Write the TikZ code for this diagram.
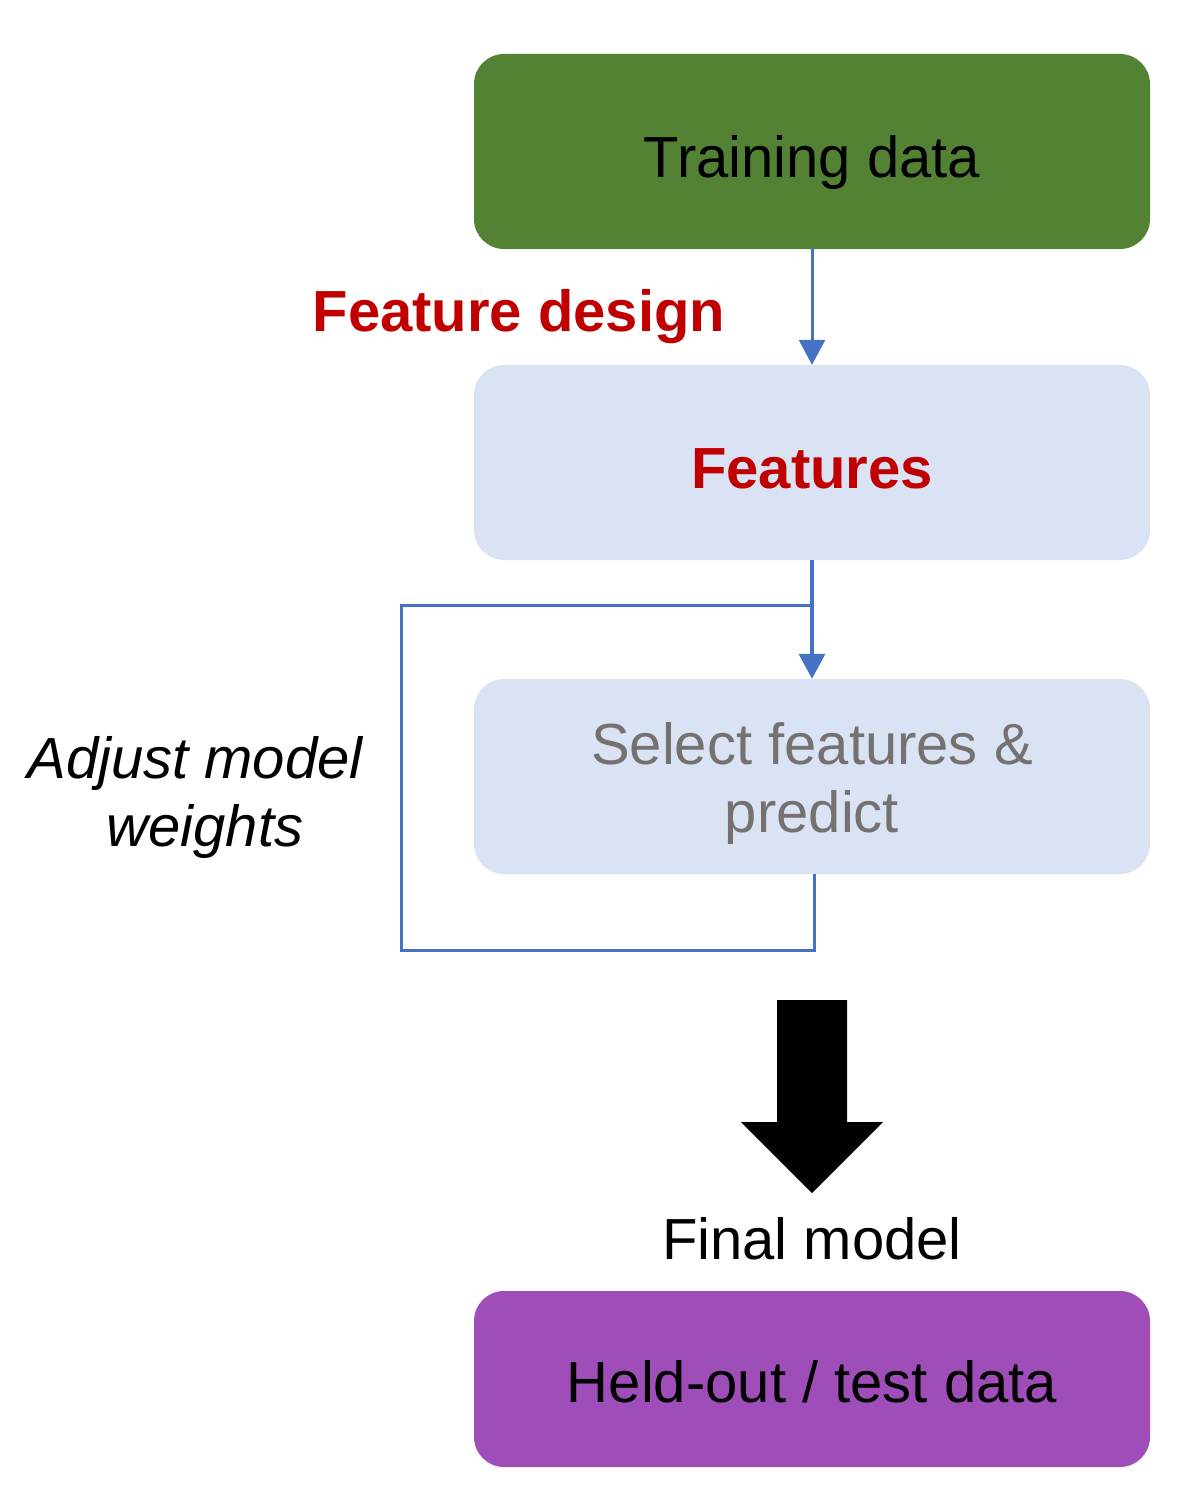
\documentclass[tikz,border=0pt]{standalone}
\usepackage{fontspec}
\setmainfont{Liberation Sans}
\usetikzlibrary{arrows.meta}
\definecolor{boxgreen}{HTML}{548235}
\definecolor{boxblue}{HTML}{DAE3F3}
\definecolor{boxpurple}{HTML}{9E4DB9}
\definecolor{featred}{HTML}{C00000}
\definecolor{txtgray}{HTML}{767171}
\definecolor{lineblue}{HTML}{4472C4}
\begin{document}
\begin{tikzpicture}[x=1pt,y=-1pt,
  box/.style={rectangle, rounded corners=30pt, minimum width=676pt, inner sep=0pt},
  lbl/.style={font=\fontsize{58}{68}\selectfont, inner sep=0pt},
  flow/.style={draw=lineblue, line width=3pt, -{Triangle[width=26pt,length=25pt]}},
  loopline/.style={draw=lineblue, line width=3pt}]
\useasboundingbox (0,0) rectangle (1197,1498);

% boxes
\node[box, fill=boxgreen, minimum height=195pt] (train) at (812,151.5) {};
\node[box, fill=boxblue, minimum height=195pt] (feat) at (812,462.5) {};
\node[box, fill=boxblue, minimum height=195pt] (sel) at (812,776.5) {};
\node[box, fill=boxpurple, minimum height=176pt] (test) at (812,1379) {};

% box texts
\node[lbl, anchor=base] (ttrain) at (812,178) {Training data};
\node[lbl, anchor=base, font=\fontsize{58}{68}\selectfont\bfseries, text=featred] (tfeat) at (812,488) {Features};
\node[lbl, align=center, text=txtgray] (tsel) at (812,783) {Select features \&\\predict};
\node[lbl, anchor=base] (ttest) at (812,1402) {Held-out / test data};

% free labels
\node[lbl, anchor=base, font=\fontsize{58}{68}\selectfont\bfseries, text=featred] (design) at (519,331) {Feature design};
\node[lbl, align=center, font=\fontsize{58}{68}\selectfont\itshape] (adjust) at (195,797) {Adjust model\\\hspace*{20pt}weights};
\node[lbl, anchor=base] (final) at (812,1259) {Final model};

% connectors
\draw[flow] (train.south) -- (feat.north);
\coordinate (join) at (812,605);
\coordinate (loopL) at (401,950);
\draw[flow, line width=3.5pt] (feat.south) -- (sel.north);
\draw[loopline] ([xshift=2pt]sel.south) |- (loopL) |- (join);

% block arrow
\fill[black] (777,1000) -- (847,1000) -- (847,1122) -- (883,1122) -- (812,1193) -- (741,1122) -- (777,1122) -- cycle;
\end{tikzpicture}
\end{document}
